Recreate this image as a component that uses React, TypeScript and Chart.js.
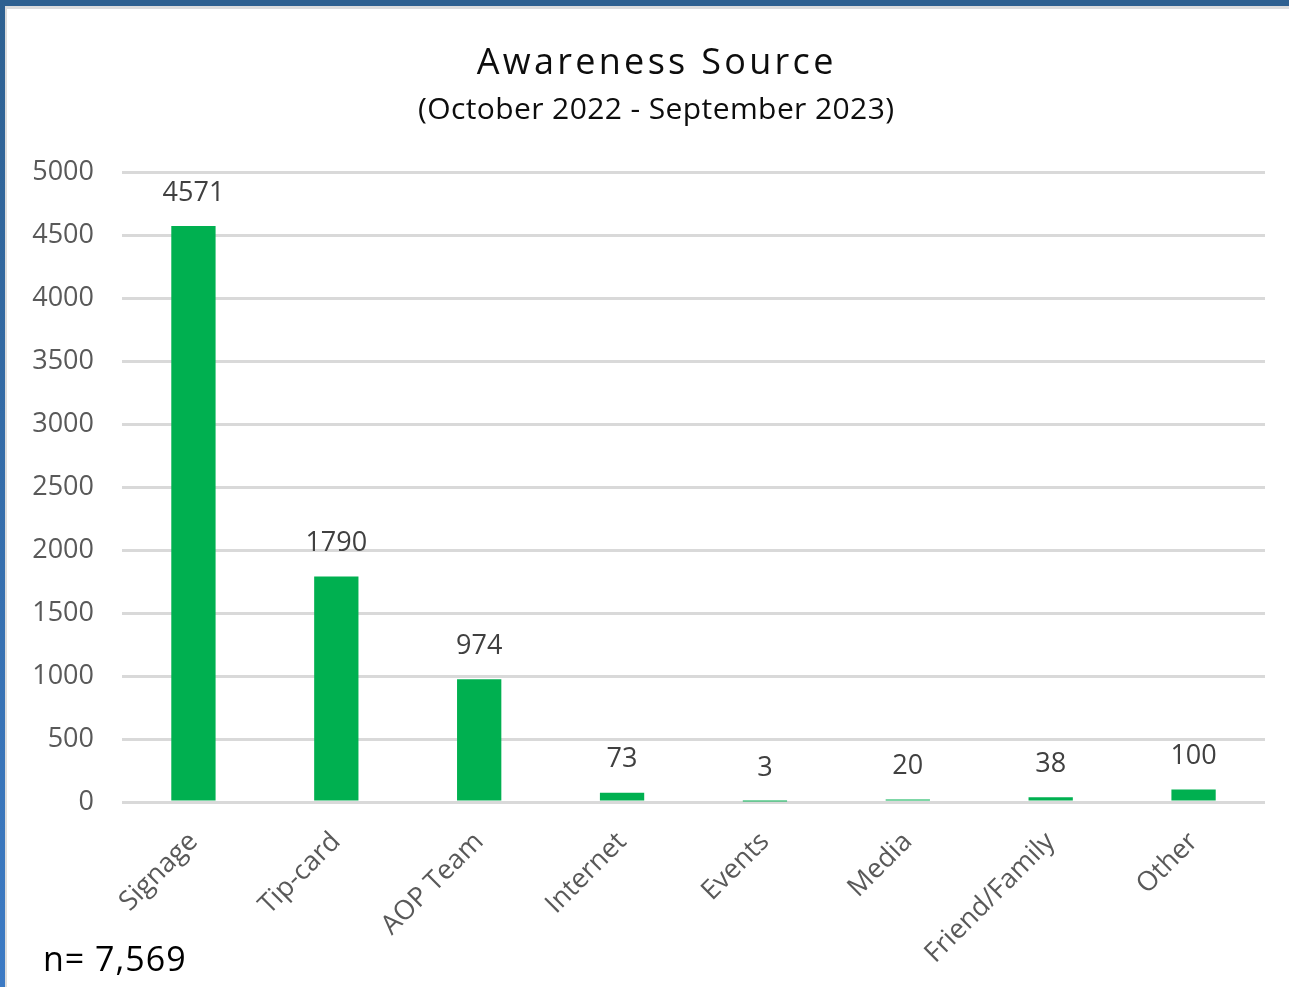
import React, { useEffect, useRef } from "react";
import { Chart, registerables } from "chart.js";

Chart.register(...registerables);

const TITLE = "Awareness Source";
const SUBTITLE = "(October 2022 - September 2023)";
const NOTE = "n= 7,569";

const categories = [
  "Signage",
  "Tip-card",
  "AOP Team",
  "Internet",
  "Events",
  "Media",
  "Friend/Family",
  "Other",
];
const counts = [4571, 1790, 974, 73, 3, 20, 38, 100];

const Y_MIN = 0;
const Y_MAX = 5000;
const Y_STEP = 500;

const FONT = "'Open Sans', 'DejaVu Sans', sans-serif";
const W = 1289;
const H = 987;

const textPlugin = {
  id: "awarenessTexts",
  afterDatasetsDraw(chart: any) {
    const ctx = chart.ctx as CanvasRenderingContext2D;
    const meta = chart.getDatasetMeta(0);
    ctx.save();
    ctx.font = `27px ${FONT}`;
    ctx.fillStyle = "#404040";
    ctx.textAlign = "center";
    ctx.textBaseline = "middle";
    meta.data.forEach((bar: any, i: number) => {
      ctx.fillText(String(counts[i]), bar.x, bar.y - 33);
    });
    ctx.restore();
  },
  afterDraw(chart: any) {
    const ctx = chart.ctx as any;
    const drawSpaced = (
      text: string,
      x: number,
      y: number,
      font: string,
      color: string,
      spacing: number,
      align: CanvasTextAlign
    ) => {
      ctx.save();
      ctx.font = font;
      ctx.fillStyle = color;
      ctx.textBaseline = "middle";
      ctx.letterSpacing = `${spacing}px`;
      ctx.textAlign = "left";
      const w = ctx.measureText(text).width - spacing;
      let sx = x;
      if (align === "center") sx = x - w / 2;
      ctx.fillText(text, sx, y);
      ctx.restore();
    };
    drawSpaced(TITLE, 655, 64, `36px ${FONT}`, "#0d0d0d", 3.3, "center");
    drawSpaced(SUBTITLE, 656, 110, `30px ${FONT}`, "#0d0d0d", 0.4, "center");
    drawSpaced(NOTE, 43, 961, `34px ${FONT}`, "#000000", 1, "left");
  },
};

export default function App() {
  const canvasRef = useRef<HTMLCanvasElement | null>(null);

  useEffect(() => {
    const canvas = canvasRef.current;
    if (!canvas) return;
    const chart = new Chart(canvas, {
      type: "bar",
      data: {
        labels: categories,
        datasets: [
          {
            label: "Awareness Source",
            data: counts,
            backgroundColor: "#00b050",
            borderWidth: 0,
            barPercentage: 0.31,
            categoryPercentage: 1,
          },
        ],
      },
      options: {
        animation: false,
        responsive: false,
        maintainAspectRatio: false,
        devicePixelRatio: 1,
        layout: {
          padding: { left: 0, right: 24, top: 172, bottom: 0 },
        },
        plugins: {
          legend: { display: false },
          title: { display: false },
          tooltip: { enabled: false },
        },
        scales: {
          x: {
            grid: { display: false },
            border: { display: false },
            ticks: {
              color: "#595959",
              font: { family: FONT, size: 27 },
              minRotation: 45,
              maxRotation: 45,
              padding: 16,
              autoSkip: false,
            },
            afterFit: (scale: any) => {
              scale.height = 185;
            },
          },
          y: {
            min: Y_MIN,
            max: Y_MAX,
            grid: {
              color: "#d9d9d9",
              lineWidth: 3,
              drawTicks: false,
            },
            border: { display: false },
            ticks: {
              stepSize: Y_STEP,
              color: "#595959",
              font: { family: FONT, size: 27 },
              padding: 28,
              callback: (v: any) => String(v),
            },
            afterFit: (scale: any) => {
              scale.width = 122;
            },
          },
        },
      },
      plugins: [textPlugin],
    });
    return () => chart.destroy();
  }, []);

  return (
    <div
      style={{
        position: "absolute",
        left: 0,
        top: 0,
        width: W,
        height: H,
        background: "#ffffff",
        overflow: "hidden",
      }}
    >
      <canvas
        ref={canvasRef}
        width={W}
        height={H}
        style={{ position: "absolute", left: 0, top: 0, width: W, height: H }}
      />
      <div
        style={{
          position: "absolute",
          left: 0,
          top: 0,
          width: W,
          height: 6,
          background: "#2e6090",
        }}
      />
      <div
        style={{
          position: "absolute",
          left: 6,
          top: 6,
          width: W - 6,
          height: 3,
          background: "#dcdcdc",
        }}
      />
      <div
        style={{
          position: "absolute",
          left: 0,
          top: 0,
          width: 5,
          height: H,
          background: "linear-gradient(#2e6090, #3c7ac4)",
        }}
      />
      <div
        style={{
          position: "absolute",
          left: 5,
          top: 6,
          width: 2,
          height: H - 6,
          background: "#dcdcdc",
        }}
      />
    </div>
  );
}
